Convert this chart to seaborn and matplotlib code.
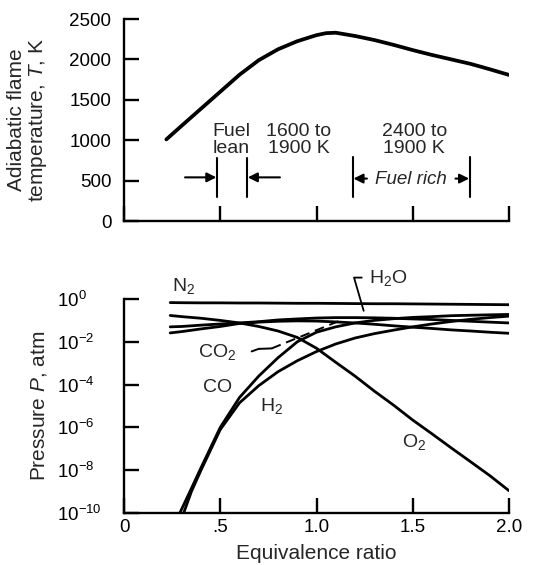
import matplotlib
matplotlib.use("Agg")
import matplotlib.pyplot as plt
from matplotlib.ticker import NullLocator
import pandas as pd
import seaborn as sns

# ---------------- data ----------------
phi_T = [0.22, 0.3, 0.4, 0.5, 0.6, 0.7, 0.8, 0.9, 1.0, 1.05, 1.1, 1.2, 1.3,
         1.4, 1.5, 1.6, 1.7, 1.8, 1.9, 2.0]
temp_K = [1010, 1180, 1390, 1600, 1810, 1990, 2125, 2225, 2300, 2325, 2330,
          2290, 2240, 2180, 2115, 2055, 2000, 1945, 1878, 1808]

phi_main = [0.24, 0.3, 0.4, 0.5, 0.6, 0.7, 0.8, 0.9, 1.0, 1.1, 1.2, 1.3, 1.4,
            1.5, 1.6, 1.7, 1.8, 1.9, 2.0]
p_N2 = [0.68, 0.67, 0.66, 0.66, 0.65, 0.65, 0.64, 0.63, 0.63, 0.62, 0.61,
        0.60, 0.60, 0.59, 0.58, 0.57, 0.56, 0.55, 0.54]
p_O2 = [1.7e-1, 1.5e-1, 1.26e-1, 1.0e-1, 7.6e-2, 5.2e-2, 3.2e-2, 1.6e-2,
        5.0e-3, 1.1e-3, 2.5e-4, 5.0e-5, 1.1e-5, 2.2e-6, 5.0e-7, 1.1e-7,
        2.5e-8, 5.6e-9, 1.1e-9]
p_H2O = [5.0e-2, 5.2e-2, 6.0e-2, 6.8e-2, 7.6e-2, 8.7e-2, 1.05e-1, 1.17e-1,
         1.29e-1, 1.35e-1, 1.35e-1, 1.32e-1, 1.26e-1, 1.17e-1, 1.1e-1,
         1.0e-1, 9.1e-2, 8.3e-2, 7.6e-2]
p_CO2 = [2.6e-2, 3.0e-2, 4.0e-2, 5.2e-2, 7.2e-2, 8.3e-2, 9.1e-2, 9.5e-2,
         9.3e-2, 8.5e-2, 7.6e-2, 6.6e-2, 5.6e-2, 4.8e-2, 4.2e-2, 3.6e-2,
         3.2e-2, 2.8e-2, 2.5e-2]

phi_CO = [0.29, 0.35, 0.4, 0.5, 0.6, 0.7, 0.8, 0.9, 1.0, 1.1, 1.2, 1.3, 1.4,
          1.5, 1.6, 1.7, 1.8, 1.9, 2.0]
p_CO = [1e-10, 1.4e-9, 1.3e-8, 1.0e-6, 2.5e-5, 2.5e-4, 1.8e-3, 1.0e-2,
        2.8e-2, 5.0e-2, 7.6e-2, 1.0e-1, 1.2e-1, 1.38e-1, 1.5e-1, 1.66e-1,
        1.74e-1, 1.82e-1, 1.9e-1]

phi_H2 = [0.31, 0.35, 0.4, 0.5, 0.6, 0.7, 0.8, 0.9, 1.0, 1.1, 1.2, 1.3, 1.4,
          1.5, 1.6, 1.7, 1.8, 1.9, 2.0]
p_H2 = [1e-10, 1.0e-9, 1.0e-8, 7.9e-7, 1.4e-5, 8.9e-5, 4.0e-4, 1.3e-3,
        3.5e-3, 7.9e-3, 1.5e-2, 2.4e-2, 3.5e-2, 5.0e-2, 6.8e-2, 8.9e-2,
        1.12e-1, 1.35e-1, 1.58e-1]

T_ticks = [0, 500, 1000, 1500, 2000, 2500]
P_ticks = [1e-10, 1e-8, 1e-6, 1e-4, 1e-2, 1e0]
P_ticklabels = ["$10^{-10}$", "$10^{-8}$", "$10^{-6}$", "$10^{-4}$",
                "$10^{-2}$", "$10^{0}$"]
x_ticks = [0, 0.5, 1.0, 1.5, 2.0]
x_ticklabels = ["0", ".5", "1.0", "1.5", "2.0"]

# ---------------- style ----------------
sns.set_theme(style="ticks")
plt.rcParams["font.family"] = ["Liberation Sans", "DejaVu Sans"]
plt.rcParams["mathtext.fontset"] = "custom"
plt.rcParams["mathtext.rm"] = "Liberation Sans"
plt.rcParams["mathtext.it"] = "Liberation Sans:italic"
plt.rcParams["mathtext.bf"] = "Liberation Sans:bold"
FS_TICK = 13.5
FS_LAB = 15
FS_ANN = 14

fig = plt.figure(figsize=(5.4, 5.65), dpi=100)
W, H = 540, 565
ax1 = fig.add_axes([124 / W, 1 - 221 / H, 385 / W, 202 / H])
ax2 = fig.add_axes([124 / W, 1 - 513 / H, 385 / W, 214 / H])

for ax in (ax1, ax2):
    sns.despine(ax=ax)
    for s in ("left", "bottom"):
        ax.spines[s].set_linewidth(1.7)
        ax.spines[s].set_color("black")
    ax.tick_params(direction="in", length=11, width=1.7, colors="black",
                   labelsize=FS_TICK)
    ax.set_xlim(0, 2.0)
    ax.set_xticks(x_ticks)

# ---------------- top panel ----------------
sns.lineplot(x=phi_T, y=temp_K, ax=ax1, color="black", lw=2.7,
             estimator=None, sort=False)
ax1.set_ylim(0, 2500)
ax1.set_yticks(T_ticks)
ax1.set_xticklabels([])
ax1.tick_params(axis="y", pad=9)
ax1.set_ylabel("Adiabatic flame\ntemperature, $T$, K", fontsize=FS_LAB,
               linespacing=1.05)
ax1.yaxis.set_label_coords(-0.195, 0.5)

ax1.text(0.56, 1000, "Fuel\nlean", ha="center", va="center", fontsize=FS_ANN,
         linespacing=1.0, multialignment="left")
ax1.text(0.906, 1000, "1600 to\n1900 K", ha="center", va="center",
         fontsize=FS_ANN, linespacing=1.0)
ax1.text(1.508, 1000, "2400 to\n1900 K", ha="center", va="center",
         fontsize=FS_ANN, linespacing=1.0)
ax1.text(1.492, 510, "Fuel rich", ha="center", va="center",
         fontsize=FS_ANN - 0.5, style="italic")
for xv, ytop in ((0.482, 775), (0.641, 775), (1.19, 795), (1.795, 795)):
    ax1.plot([xv, xv], [300, ytop], color="black", lw=1.5)
ap = dict(arrowstyle="-|>", color="black", lw=1.5, mutation_scale=14,
          shrinkA=0, shrinkB=0)
ax1.annotate("", xy=(0.480, 540), xytext=(0.317, 540), arrowprops=ap)
ax1.annotate("", xy=(0.643, 540), xytext=(0.81, 540), arrowprops=ap)
ax1.annotate("", xy=(1.192, 525), xytext=(1.262, 525), arrowprops=ap)
ax1.annotate("", xy=(1.793, 525), xytext=(1.722, 525), arrowprops=ap)

# ---------------- bottom panel ----------------
frames = []
for name, xs, ys in (("N2", phi_main, p_N2), ("O2", phi_main, p_O2),
                     ("H2O", phi_main, p_H2O), ("CO2", phi_main, p_CO2),
                     ("CO", phi_CO, p_CO), ("H2", phi_H2, p_H2)):
    frames.append(pd.DataFrame({"phi": xs, "P": ys, "species": name}))
df = pd.concat(frames, ignore_index=True)

ax2.set_yscale("log")
sns.lineplot(data=df, x="phi", y="P", units="species", estimator=None,
             color="black", lw=2.0, sort=False, ax=ax2)
ax2.set_ylim(1e-10, 1.0)
ax2.set_yticks(P_ticks)
ax2.set_yticklabels(P_ticklabels)
ax2.yaxis.set_minor_locator(NullLocator())
ax2.tick_params(axis="y", pad=48)
for lab in ax2.get_yticklabels():
    lab.set_horizontalalignment("left")
ax2.set_xticklabels(x_ticklabels)
ax2.tick_params(axis="x", pad=4)
ax2.set_xlabel("Equivalence ratio", fontsize=FS_LAB, labelpad=6)
ax2.set_ylabel("Pressure $P$, atm", fontsize=FS_LAB)
ax2.yaxis.set_label_coords(-0.195, 0.5)

ax2.text(0.25, 10 ** 0.62, "N$_2$", ha="left", va="center", fontsize=FS_ANN,
         clip_on=False)
ax2.text(1.275, 10 ** 0.98, "H$_2$O", ha="left", va="center",
         fontsize=FS_ANN, clip_on=False)
ax2.plot([1.235, 1.195, 1.245], [10 ** 1.0, 10 ** 1.0, 10 ** -0.55],
         color="black", lw=1.3, clip_on=False)
ax2.text(0.385, 10 ** -2.5, "CO$_2$", ha="left", va="center",
         fontsize=FS_ANN)
ax2.plot([0.663, 0.70, 0.767], [10 ** -2.45, 10 ** -2.33, 10 ** -2.31],
         color="black", lw=1.4)
ax2.plot([0.767, 1.13], [10 ** -2.31, 10 ** -0.98], color="black", lw=1.4,
         ls=(0, (5, 3)))
ax2.text(0.485, 10 ** -4.14, "CO", ha="center", va="center", fontsize=FS_ANN)
ax2.text(0.765, 10 ** -5.0, "H$_2$", ha="center", va="center",
         fontsize=FS_ANN)
ax2.text(1.505, 10 ** -6.7, "O$_2$", ha="center", va="center",
         fontsize=FS_ANN)

fig.savefig("out.png", dpi=100)
